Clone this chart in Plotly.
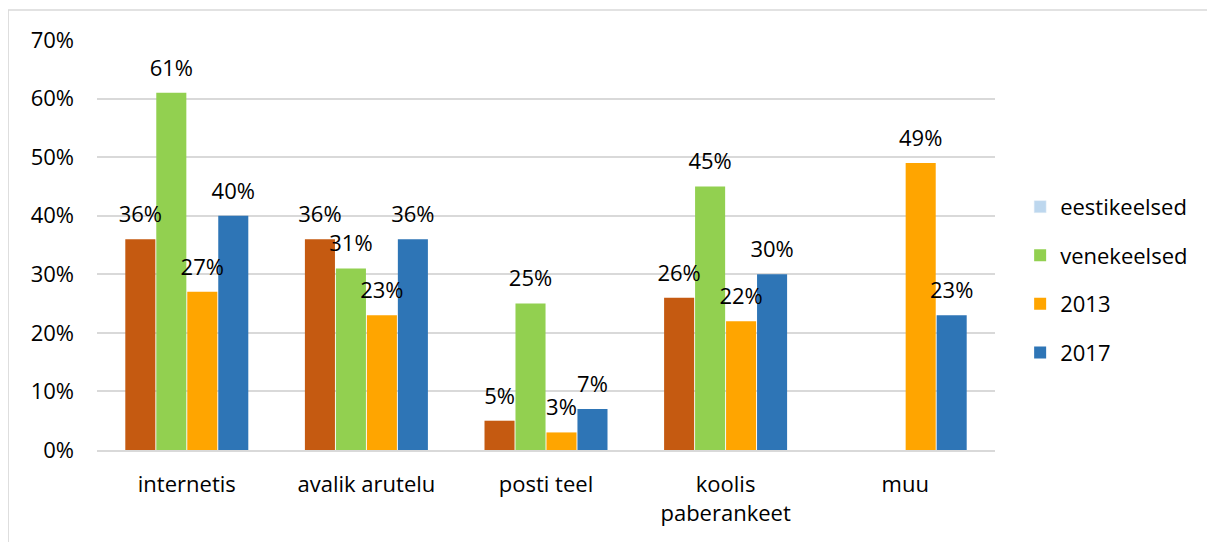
import plotly.graph_objects as go

categories = ["internetis", "avalik arutelu", "posti teel", "koolis<br>paberankeet", "muu"]
series_names = ["eestikeelsed", "venekeelsed", "2013", "2017"]
eestikeelsed = [0.36, 0.36, 0.05, 0.26, None]
venekeelsed = [0.61, 0.31, 0.25, 0.45, None]
y2013 = [0.27, 0.23, 0.03, 0.22, 0.49]
y2017 = [0.40, 0.36, 0.07, 0.30, 0.23]
y_ticks = [0, 0.1, 0.2, 0.3, 0.4, 0.5, 0.6, 0.7]

bar_colors = ["#C55A11", "#92D050", "#FFA500", "#2E75B6"]
legend_first_color = "#BDD7EE"
FONT = "'Open Sans', sans-serif"
FS = 22

fig = go.Figure()

# legend-only entry for the first series (the reference shows a light-blue swatch)
fig.add_trace(go.Bar(
    x=categories, y=[None] * len(categories), name=series_names[0],
    marker_color=legend_first_color, offsetgroup="a", legendgroup="g1",
    hoverinfo="skip",
))

values = [eestikeelsed, venekeelsed, y2013, y2017]
groups = ["a", "b", "c", "d"]
for i, (vals, col, og) in enumerate(zip(values, bar_colors, groups)):
    fig.add_trace(go.Bar(
        x=categories, y=vals, name=series_names[i],
        marker=dict(color=col, line=dict(width=0)),
        offsetgroup=og, legendgroup=f"g{i+1}",
        showlegend=(i != 0),
    ))

# data labels, aligned with the bars through the grouped scatter mode
for i, (vals, og) in enumerate(zip(values, groups)):
    fig.add_trace(go.Scatter(
        x=categories, y=vals, mode="markers+text", offsetgroup=og,
        texttemplate="%{y:.0%}", textposition="top center",
        textfont=dict(size=FS, color="#000000", family=FONT),
        marker=dict(size=17, opacity=0),
        showlegend=False, hoverinfo="skip", cliponaxis=False,
    ))

fig.update_layout(
    width=1207, height=534,
    margin=dict(l=89, r=220, t=32, b=92),
    barmode="group", bargap=0.31, bargroupgap=0.03,
    scattermode="group", scattergap=0.31,
    plot_bgcolor="white", paper_bgcolor="white",
    font=dict(family=FONT, size=FS, color="#000000"),
    legend=dict(
        x=1.028, y=0.415, xanchor="left", yanchor="middle",
        font=dict(size=FS, family=FONT), tracegroupgap=17,
        traceorder="grouped", itemwidth=30,
    ),
    yaxis=dict(
        range=[0, 0.7], tickvals=y_ticks, tickformat=".0%",
        showgrid=True, gridcolor="#D9D9D9", gridwidth=1.5,
        zeroline=False, showline=False, ticks="", ticklabelstandoff=22,
        tickfont=dict(size=FS),
    ),
    xaxis=dict(
        showline=True, linecolor="#D9D9D9", linewidth=2,
        ticks="", ticklabelstandoff=14, tickfont=dict(size=FS),
    ),
    shapes=[dict(
        type="rect", xref="paper", yref="paper",
        x0=-0.099, x1=1.4, y0=-0.4, y1=1.073,
        line=dict(color="#D9D9D9", width=1.5),
    )],
)

fig.write_html("out.html")
